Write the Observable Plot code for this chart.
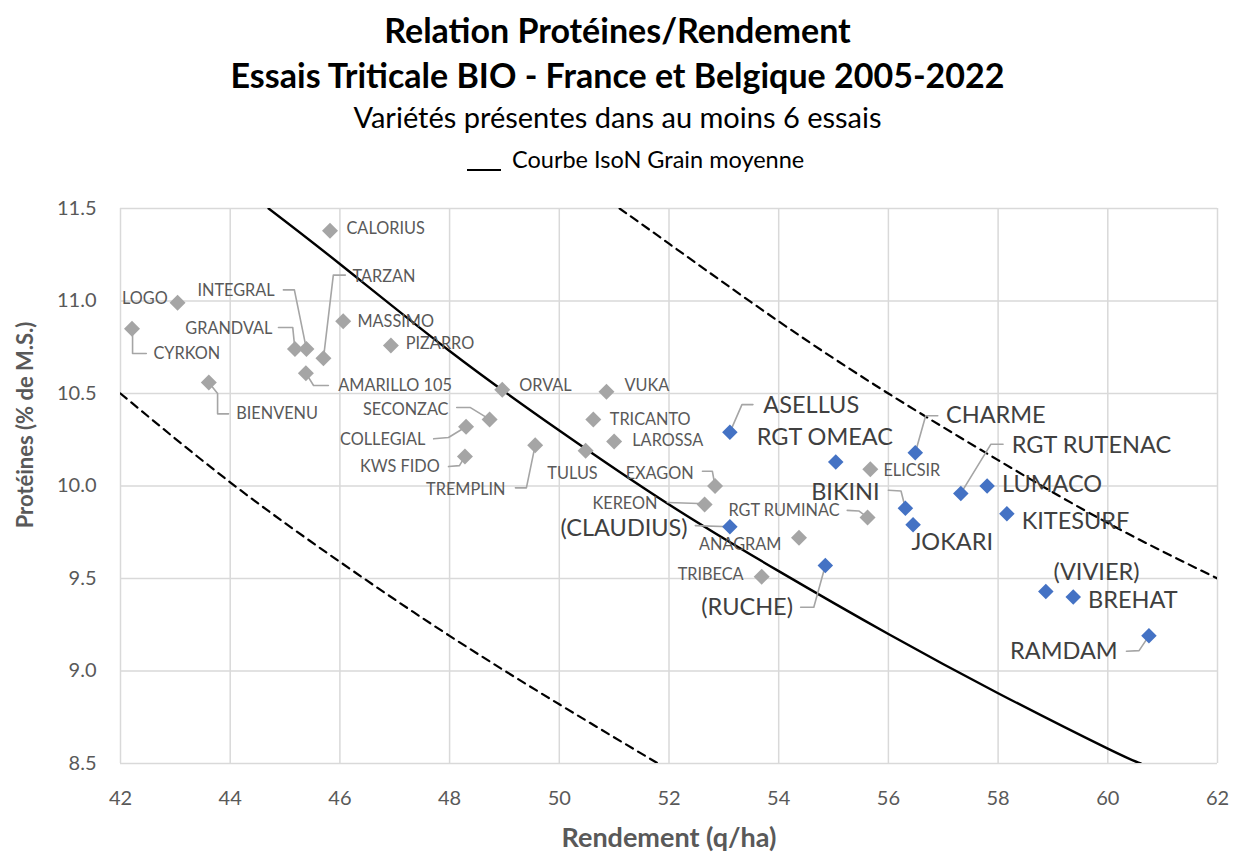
<!DOCTYPE html>
<html><head><meta charset="utf-8">
<script src="https://cdn.jsdelivr.net/npm/d3@7"></script>
<script src="https://cdn.jsdelivr.net/npm/@observablehq/plot@0.6"></script>
<style>
body{margin:0;background:#fff;font-family:Lato,"Open Sans",sans-serif;}
#wrap{position:relative;width:1235px;height:856px;overflow:hidden;}
#head{position:relative;height:190px;}
.t{position:absolute;left:0;width:1235px;text-align:center;white-space:nowrap;color:#000;}
#t1{top:12px;font-size:34px;line-height:36px;font-weight:bold;}
#t2{top:57px;font-size:34px;line-height:36px;font-weight:bold;}
#t3{top:101px;font-size:29px;line-height:32px;}
#legline{position:absolute;left:467px;top:169px;width:34px;height:2px;background:#000;}
#legtxt{position:absolute;left:512px;top:145px;font-size:23.5px;line-height:28px;white-space:nowrap;color:#000;}
</style></head>
<body><div id="wrap">
<div id="head">
<div class="t" id="t1">Relation Protéines/Rendement</div>
<div class="t" id="t2">Essais Triticale BIO - France et Belgique 2005-2022</div>
<div class="t" id="t3">Variétés présentes dans au moins 6 essais</div>
<div id="legline"></div>
<div id="legtxt">Courbe IsoN Grain moyenne</div>
</div>
<div id="chart"></div>
</div>
<script>
// ---- data ----
const xTicks = [42, 44, 46, 48, 50, 52, 54, 56, 58, 60, 62];
const yTicks = [8.5, 9.0, 9.5, 10.0, 10.5, 11.0, 11.5];

const grayNames = ["CALORIUS","LOGO","CYRKON","GRANDVAL","INTEGRAL","TARZAN","MASSIMO","PIZARRO","AMARILLO 105","BIENVENU","ORVAL","SECONZAC","COLLEGIAL","KWS FIDO","TREMPLIN","VUKA","TRICANTO","LAROSSA","TULUS","EXAGON","KEREON","RGT RUMINAC","ANAGRAM","TRIBECA","ELICSIR"];
const grayYield = [45.82,43.04,42.21,45.18,45.39,45.70,46.06,46.93,45.38,43.61,48.96,48.73,48.30,48.28,49.56,50.86,50.62,51.00,50.48,52.84,52.65,55.62,54.37,53.69,55.67];
const grayProt  = [11.38,10.99,10.85,10.74,10.74,10.69,10.89,10.76,10.61,10.56,10.52,10.36,10.32,10.16,10.22,10.51,10.36,10.24,10.19,10.00,9.90,9.83,9.72,9.51,10.09];

const blueNames = ["ASELLUS","RGT OMEAC","(CLAUDIUS)","(RUCHE)","CHARME","BIKINI","JOKARI","RGT RUTENAC","LUMACO","KITESURF","(VIVIER)","BREHAT","RAMDAM"];
const blueYield = [53.11,55.04,53.11,54.85,56.49,56.31,56.45,57.32,57.80,58.16,58.87,59.37,60.75];
const blueProt  = [10.29,10.13,9.78,9.57,10.18,9.88,9.79,9.96,10.00,9.85,9.43,9.40,9.19];

// IsoN curves
const isoX = [44.7, 46, 48, 50, 52, 54, 56, 58, 60, 60.6];
const isoY = [11.5, 11.2, 10.73, 10.3, 9.9, 9.54, 9.2, 8.88, 8.58, 8.5];
const upX = [51.1, 52, 54, 56, 58, 60, 62];
const upY = [11.5, 11.31, 10.89, 10.5, 10.14, 9.8, 9.5];
const lowX = [42, 44, 46, 48, 50, 51.8];
const lowY = [10.5, 10.02, 9.59, 9.19, 8.82, 8.5];

// ---- label layout (data coordinates) ----
const labelLayout = [
 ["CALORIUS",46.12,11.39,"start"],["LOGO",42.86,11.01,"end"],["CYRKON",42.60,10.716,"start"],
 ["GRANDVAL",44.77,10.85,"end"],["INTEGRAL",44.81,11.057,"end"],["TARZAN",46.23,11.13,"start"],
 ["MASSIMO",46.32,10.89,"start"],["PIZARRO",47.20,10.77,"start"],["AMARILLO 105",45.97,10.543,"start"],
 ["BIENVENU",44.11,10.39,"start"],["ORVAL",49.27,10.543,"start"],["SECONZAC",47.98,10.41,"end"],
 ["COLLEGIAL",47.56,10.25,"end"],["KWS FIDO",47.82,10.105,"end"],["TREMPLIN",49.02,9.98,"end"],
 ["VUKA",51.19,10.543,"start"],["TRICANTO",50.92,10.36,"start"],["LAROSSA",51.33,10.246,"start"],
 ["TULUS",50.70,10.068,"end"],["EXAGON",52.45,10.068,"end"],["KEREON",51.79,9.905,"end"],
 ["RGT RUMINAC",55.11,9.865,"end"],["ANAGRAM",54.05,9.684,"end"],["TRIBECA",53.36,9.52,"end"],
 ["ELICSIR",55.91,10.08,"start"],
 ["ASELLUS",53.72,10.433,"start"],["RGT OMEAC",53.60,10.265,"start"],["(CLAUDIUS)",52.34,9.77,"end"],
 ["(RUCHE)",54.26,9.345,"end"],["CHARME",57.05,10.38,"start"],["BIKINI",55.84,9.964,"end"],
 ["JOKARI",56.42,9.693,"start"],["RGT RUTENAC",58.25,10.217,"start"],["LUMACO",58.07,10.01,"start"],
 ["KITESURF",58.43,9.807,"start"],["(VIVIER)",59.01,9.53,"start"],["BREHAT",59.64,9.38,"start"],
 ["RAMDAM",60.18,9.107,"end"]
];
const leaderLayout = {
 "CYRKON":[[42.22,10.85],[42.22,10.716],[42.47,10.716]],
 "GRANDVAL":[[44.88,10.857],[45.14,10.857],[45.18,10.74]],
 "INTEGRAL":[[44.97,11.06],[45.17,11.06],[45.39,10.74]],
 "TARZAN":[[45.70,10.69],[45.88,11.14],[46.10,11.14]],
 "AMARILLO 105":[[45.38,10.61],[45.52,10.543],[45.79,10.543]],
 "BIENVENU":[[43.61,10.56],[43.77,10.50],[43.77,10.39],[43.97,10.39]],
 "SECONZAC":[[48.13,10.424],[48.38,10.424],[48.73,10.36]],
 "COLLEGIAL":[[47.71,10.255],[47.98,10.262],[48.30,10.32]],
 "KWS FIDO":[[47.98,10.105],[48.18,10.11],[48.28,10.16]],
 "TREMPLIN":[[49.20,9.99],[49.40,9.99],[49.56,10.22]],
 "EXAGON":[[52.61,10.08],[52.79,10.08],[52.84,10.0]],
 "KEREON":[[51.97,9.911],[52.54,9.905],[52.65,9.90]],
 "RGT RUMINAC":[[55.25,9.868],[55.46,9.865],[55.62,9.83]],
 "ASELLUS":[[53.53,10.44],[53.33,10.44],[53.11,10.29]],
 "(CLAUDIUS)":[[52.48,9.786],[53.11,9.78]],
 "(RUCHE)":[[54.40,9.345],[54.64,9.345],[54.85,9.57]],
 "CHARME":[[56.90,10.38],[56.68,10.38],[56.49,10.18]],
 "BIKINI":[[56.0,9.977],[56.23,9.973],[56.31,9.88]],
 "RGT RUTENAC":[[58.09,10.226],[57.87,10.226],[57.32,9.96]],
 "RAMDAM":[[60.34,9.107],[60.57,9.11],[60.75,9.19]]
};

// ---- build tables ----
const gray = grayNames.map((n,i)=>({name:n, x:grayYield[i], y:grayProt[i]}));
const blue = blueNames.map((n,i)=>({name:n, x:blueYield[i], y:blueProt[i]}));
const blueSet = new Set(blueNames);
const labels = labelLayout.map(([name,x,y,anchor])=>({name,x,y,anchor,blue:blueSet.has(name)}));
const leaders = Object.entries(leaderLayout).flatMap(([name,pts])=>pts.map(([x,y])=>({name,x,y})));
const iso = isoX.map((x,i)=>({x,y:isoY[i]}));
const up = upX.map((x,i)=>({x,y:upY[i]}));
const low = lowX.map((x,i)=>({x,y:lowY[i]}));

const labelMarks = ["start","end"].flatMap(a=>[
  Plot.text(labels.filter(d=>!d.blue && d.anchor===a), {x:"x", y:"y", text:"name", textAnchor:a, fontSize:16.3, fill:"#595959"}),
  Plot.text(labels.filter(d=>d.blue && d.anchor===a), {x:"x", y:"y", text:"name", textAnchor:a, fontSize:23.5, fill:"#404040"})
]);

const chart = Plot.plot({
  width:1235, height:666,
  marginTop:18, marginLeft:120, marginRight:18, marginBottom:93,
  style:{fontFamily:"Lato, 'Open Sans', sans-serif", background:"white", overflow:"visible"},
  x:{domain:[42,62]},
  y:{domain:[8.5,11.5]},
  marks:[
    Plot.gridX(xTicks, {stroke:"#D9D9D9", strokeOpacity:1, strokeWidth:1.5}),
    Plot.gridY(yTicks, {stroke:"#D9D9D9", strokeOpacity:1, strokeWidth:1.5}),
    Plot.axisX(xTicks, {tickSize:0, tickPadding:27, fontSize:20, fill:"#595959", label:null}),
    Plot.axisY(yTicks, {tickSize:0, tickPadding:24, fontSize:20, fill:"#595959", label:null, tickFormat:d=>d.toFixed(1)}),
    Plot.text(["Rendement (q/ha)"], {frameAnchor:"bottom", textAnchor:"middle", lineAnchor:"middle", dy:75, fontSize:27, fontWeight:"bold", fill:"#595959"}),
    Plot.text(["Protéines (% de M.S.)"], {frameAnchor:"left", textAnchor:"middle", lineAnchor:"middle", dx:-95, dy:-61, rotate:-90, fontSize:22, fontWeight:"bold", fill:"#595959"}),
    Plot.line(low, {x:"x", y:"y", curve:"natural", stroke:"#000", strokeWidth:2.2, strokeDasharray:"8,6", clip:true}),
    Plot.line(up, {x:"x", y:"y", curve:"natural", stroke:"#000", strokeWidth:2.2, strokeDasharray:"8,6", clip:true}),
    Plot.line(iso, {x:"x", y:"y", curve:"natural", stroke:"#000", strokeWidth:2.4, clip:true}),
    Plot.line(leaders, {x:"x", y:"y", z:"name", stroke:"#A5A5A5", strokeWidth:1.6}),
    Plot.dot(gray, {x:"x", y:"y", symbol:"diamond2", r:7.2, fill:"#A5A5A5", stroke:"none"}),
    Plot.dot(blue, {x:"x", y:"y", symbol:"diamond2", r:7, fill:"#4472C4", stroke:"none"}),
    ...labelMarks
  ]
});
document.getElementById("chart").appendChild(chart);
</script>
</body></html>
